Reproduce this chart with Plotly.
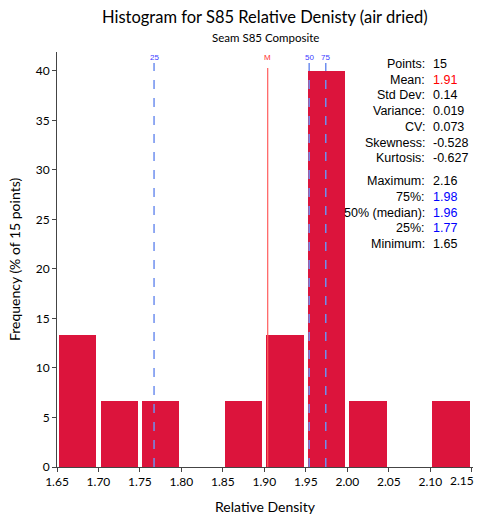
import plotly.graph_objects as go

# Data
bin_start = 1.65
bin_width = 0.05
freq_pct = [13.333, 6.667, 6.667, 0, 6.667, 13.333, 40.0, 6.667, 0, 6.667]
n_points = 15

marker_names = ["25", "M", "50", "75"]
marker_values = [1.767, 1.904, 1.954, 1.974]
marker_colors = ["#3b3bff", "#ff3030", "#3b3bff", "#3b3bff"]
marker_line_colors = ["#6f8fef", "#ff5c5c", "#6f8fef", "#6f8fef"]
marker_dash = ["dash", "solid", "dash", "dash"]

stat_labels = ["Points:", "Mean:", "Std Dev:", "Variance:", "CV:", "Skewness:", "Kurtosis:",
               "Maximum:", "75%:", "50% (median):", "25%:", "Minimum:"]
stat_values = ["15", "1.91", "0.14", "0.019", "0.073", "-0.528", "-0.627",
               "2.16", "1.98", "1.96", "1.77", "1.65"]
stat_colors = ["black", "#ff0000", "black", "black", "black", "black", "black",
               "black", "#0000ff", "#0000ff", "#0000ff", "black"]

x_ticks = [1.65, 1.70, 1.75, 1.80, 1.85, 1.90, 1.95, 2.00, 2.05, 2.10, 2.15]

centers = [bin_start + bin_width * (i + 0.5) for i in range(len(freq_pct))]

fig = go.Figure()
fig.add_trace(go.Bar(x=centers, y=freq_pct, width=bin_width * 0.9,
                     marker=dict(color="#DC143C", line=dict(width=0)),
                     hoverinfo="skip"))

W, H = 479, 521
ml, mr, mt, mb = 57, 6, 52, 54
ph = H - mt - mb
pw = W - ml - mr

def py(pix):
    return (H - mb - pix) / ph

shapes = []
annotations = []
for name, v, c, lc, d in zip(marker_names, marker_values, marker_colors, marker_line_colors, marker_dash):
    top = py(68) if d == "solid" else py(63)
    shapes.append(dict(type="line", xref="x", yref="paper", x0=v, x1=v, y0=0, y1=top,
                       line=dict(color=lc, width=1.5 if d == "dash" else 1.2,
                                 dash="dash" if d == "dash" else "solid")))
    annotations.append(dict(x=v, y=py(57), xref="x", yref="paper", text=name, showarrow=False,
                            font=dict(family="Liberation Sans, Arial", size=8, color=c),
                            xanchor="center", yanchor="middle"))

row_y = []
y = 64
for i in range(len(stat_labels)):
    row_y.append(y)
    y += 23.2 if i == 6 else 15.7

colon_x = (427 - ml) / pw
val_x = (431 - ml) / pw
for lab, val, col, ry in zip(stat_labels, stat_values, stat_colors, row_y):
    annotations.append(dict(x=colon_x, y=py(ry), xref="paper", yref="paper", text=lab,
                            showarrow=False, xanchor="right", yanchor="middle",
                            font=dict(family="Liberation Sans, Arial", size=12.5, color="black")))
    annotations.append(dict(x=val_x, y=py(ry), xref="paper", yref="paper", text=val,
                            showarrow=False, xanchor="left", yanchor="middle",
                            font=dict(family="Liberation Sans, Arial", size=12.5, color=col)))

annotations.append(dict(x=0.5, y=py(17), xref="paper", yref="paper",
                        text="Histogram for S85 Relative Denisty (air dried)", showarrow=False,
                        xanchor="center", yanchor="middle",
                        font=dict(family="Lato, Open Sans", size=16.5, color="black")))
annotations.append(dict(x=0.5, y=py(37), xref="paper", yref="paper",
                        text="Seam S85 Composite", showarrow=False,
                        xanchor="center", yanchor="middle",
                        font=dict(family="Lato, Open Sans", size=11.5, color="black")))

tick_text = [f"{t:.2f}" for t in x_ticks]
# last label is drawn as an annotation, nudged left so it stays inside the page
annotations.append(dict(x=x_ticks[-1], y=py(481), xref="x", yref="paper",
                        text=tick_text[-1], showarrow=False, xanchor="right", yanchor="middle",
                        xshift=4,
                        font=dict(family="Lato, Open Sans", size=12, color="black")))
tick_text[-1] = ""

fig.update_layout(
    width=W, height=H,
    margin=dict(l=ml, r=mr, t=mt, b=mb),
    paper_bgcolor="white", plot_bgcolor="white",
    showlegend=False,
    bargap=0,
    shapes=shapes,
    annotations=annotations,
    font=dict(family="Lato, Open Sans", color="black"),
    xaxis=dict(range=[1.65, 2.1515], tickmode="array", tickvals=x_ticks,
               ticktext=tick_text,
               ticklabeloverflow="allow", automargin=False,
               showgrid=False, zeroline=False, showline=True, linecolor="#444", linewidth=1,
               ticks="outside", ticklen=4, tickcolor="#444",
               tickfont=dict(size=12, family="Lato, Open Sans"),
               title=dict(text="Relative Density", font=dict(size=14, family="Lato, Open Sans"), standoff=13)),
    yaxis=dict(range=[0, 41.9], tickmode="linear", tick0=0, dtick=5,
               automargin=False,
               showgrid=False, zeroline=False, showline=True, linecolor="#444", linewidth=1,
               ticks="outside", ticklen=4, tickcolor="#444",
               tickfont=dict(size=12, family="Lato, Open Sans"),
               title=dict(text="Frequency (% of 15 points)", font=dict(size=14, family="Lato, Open Sans"), standoff=11)),
)

fig.write_html("out.html")
